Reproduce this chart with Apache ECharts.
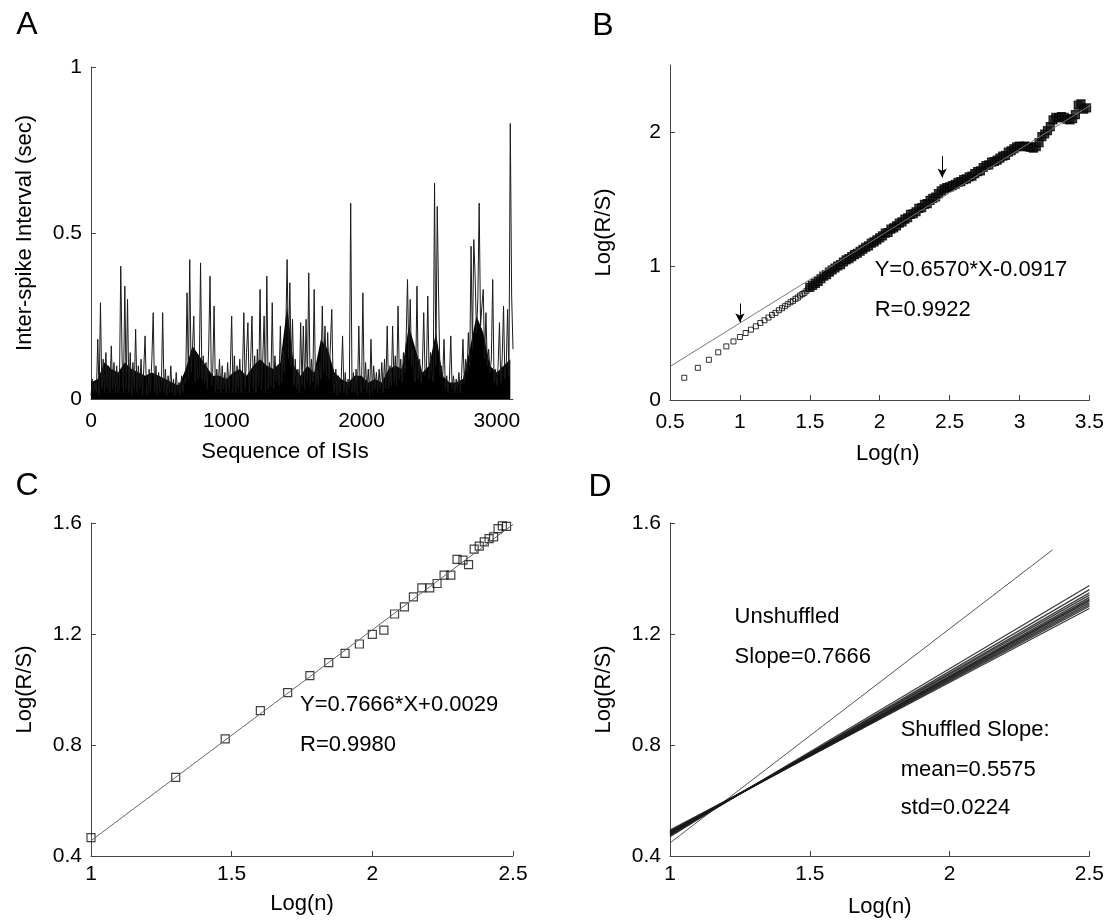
<!DOCTYPE html>
<html>
<head>
<meta charset="utf-8">
<script src="https://cdn.jsdelivr.net/npm/echarts@6/dist/echarts.min.js"></script>
<style>html,body{margin:0;padding:0;background:#fff}#c{width:1107px;height:920px}</style>
</head>
<body>
<div id="c"></div>
<script>
// ---------- Panel A: inter-spike intervals (one value every 10 ISIs) ----------
const isiStep = 10;
const isiValues = [
0.01,0.06,0.02,0.05,0.02,0.18,0.01,0.29,0.03,0.12,0.02,0.14,0.03,0.10,0.02,0.16,0.03,0.11,0.02,0.10,
0.02,0.03,0.40,0.12,0.02,0.34,0.03,0.30,0.02,0.14,0.01,0.11,0.03,0.21,0.02,0.10,0.03,0.12,0.01,0.09,
0.19,0.02,0.01,0.09,0.02,0.12,0.26,0.02,0.10,0.01,0.08,0.02,0.03,0.26,0.02,0.09,0.01,0.07,0.02,0.10,
0.02,0.06,0.01,0.08,0.02,0.05,0.01,0.07,0.02,0.06,0.05,0.32,0.06,0.42,0.08,0.15,0.25,0.05,0.14,0.06,
0.07,0.41,0.06,0.13,0.05,0.11,0.03,0.15,0.37,0.04,0.08,0.28,0.02,0.09,0.03,0.12,0.02,0.10,0.03,0.08,
0.02,0.11,0.03,0.09,0.25,0.02,0.13,0.02,0.10,0.03,0.12,0.02,0.08,0.26,0.03,0.14,0.23,0.02,0.11,0.25,
0.03,0.13,0.02,0.15,0.04,0.33,0.03,0.12,0.25,0.02,0.37,0.03,0.11,0.04,0.29,0.03,0.13,0.05,0.10,0.04,
0.22,0.05,0.15,0.08,0.20,0.42,0.12,0.35,0.10,0.24,0.04,0.12,0.03,0.09,0.02,0.23,0.04,0.22,0.03,0.24,
0.05,0.38,0.04,0.12,0.05,0.33,0.03,0.10,0.04,0.11,0.06,0.28,0.08,0.22,0.07,0.20,0.06,0.16,0.27,0.05,
0.02,0.09,0.01,0.07,0.02,0.06,0.19,0.02,0.08,0.01,0.06,0.03,0.59,0.02,0.08,0.02,0.09,0.01,0.22,0.03,
0.02,0.32,0.03,0.11,0.02,0.09,0.01,0.18,0.02,0.10,0.03,0.08,0.02,0.09,0.03,0.11,0.02,0.12,0.03,0.22,
0.03,0.10,0.04,0.22,0.05,0.13,0.04,0.28,0.06,0.12,0.05,0.14,0.08,0.18,0.36,0.12,0.30,0.10,0.15,0.06,
0.05,0.34,0.06,0.12,0.05,0.10,0.26,0.07,0.09,0.31,0.06,0.14,0.08,0.05,0.65,0.10,0.58,0.31,0.07,0.10,
0.06,0.18,0.03,0.07,0.02,0.06,0.19,0.03,0.07,0.02,0.06,0.03,0.08,0.02,0.07,0.18,0.05,0.12,0.08,0.20,
0.10,0.46,0.15,0.48,0.37,0.20,0.30,0.59,0.22,0.28,0.33,0.12,0.26,0.10,0.15,0.08,0.12,0.36,0.05,0.09,
0.04,0.10,0.23,0.05,0.12,0.28,0.06,0.10,0.27,0.07,0.83,0.31,0.15
];
// height of the solid black mass formed by the densely packed ISIs (one value every 50 ISIs)
const isiCoreStep = 50;
const isiCore = [
0.05,0.06,0.11,0.09,0.08,0.11,0.09,0.08,0.07,0.08,
0.07,0.06,0.05,0.04,0.09,0.16,0.13,0.10,0.07,0.07,
0.06,0.08,0.09,0.07,0.10,0.12,0.10,0.09,0.11,0.28,
0.10,0.07,0.10,0.08,0.18,0.15,0.08,0.06,0.05,0.07,
0.07,0.05,0.06,0.05,0.09,0.10,0.09,0.22,0.15,0.08,
0.10,0.20,0.07,0.05,0.05,0.06,0.15,0.25,0.20,0.10,
0.08,0.10,0.12
];
const aXTicks = [0, 1000, 2000, 3000];
const aYTicks = [0, 0.5, 1];

// ---------- Panel B: R/S analysis of the ISI series ----------
const rsSparseX = [0.602,0.699,0.778,0.845,0.903,0.954,1.000,1.041,1.079,1.114,1.146,1.176,1.204,1.230,1.255,1.279,1.301,1.322,1.342,1.362,1.380,1.398,1.415,1.431,1.447,1.462,1.477,1.491];
const rsSparseY = [0.166,0.240,0.300,0.356,0.400,0.437,0.470,0.500,0.525,0.550,0.575,0.595,0.615,0.635,0.650,0.670,0.685,0.700,0.715,0.730,0.740,0.755,0.765,0.780,0.790,0.800,0.815,0.830];
const rsDenseStart = 1.50, rsDenseStep = 0.02;
const rsDenseY = [
0.840,0.855,0.870,0.885,0.905,0.925,0.935,0.955,0.970,0.985,
1.000,1.010,1.030,1.045,1.055,1.070,1.085,1.095,1.110,1.125,
1.140,1.150,1.170,1.180,1.195,1.210,1.225,1.245,1.250,1.275,
1.285,1.300,1.320,1.330,1.350,1.360,1.385,1.390,1.405,1.430,
1.435,1.460,1.465,1.490,1.505,1.515,1.540,1.560,1.575,1.585,
1.590,1.600,1.610,1.625,1.630,1.645,1.650,1.665,1.670,1.690,
1.705,1.710,1.735,1.750,1.755,1.775,1.780,1.790,1.805,1.820,
1.825,1.850,1.860,1.875,1.890,1.895,1.890,1.895,1.890,1.885,
1.880,1.890,1.920,1.965,1.985,2.010,2.040,2.090,2.110,2.105,
2.115,2.110,2.095,2.090,2.100,2.130,2.200,2.210,2.170,2.180
];
const fitBX = [0.5, 3.6];
const fitBY = [0.25, 2.26];
const arrowBX = [1.0, 2.447];
const arrowBTop = [0.72, 1.82];
const arrowBTip = [0.58, 1.66];
const bXTicks = [0.5, 1, 1.5, 2, 2.5, 3, 3.5];
const bYTicks = [0, 1, 2];

// ---------- Panel C: R/S for 10 <= n <= 300 ----------
const cX = [1.000,1.301,1.477,1.602,1.699,1.778,1.845,1.903,1.954,2.000,2.041,2.079,2.114,2.146,2.176,2.204,2.230,2.255,2.279,2.301,2.322,2.342,2.362,2.380,2.398,2.415,2.431,2.447,2.462,2.477];
const cY = [0.466,0.683,0.822,0.924,0.989,1.050,1.097,1.130,1.164,1.199,1.214,1.272,1.298,1.334,1.366,1.366,1.382,1.412,1.412,1.469,1.466,1.450,1.506,1.517,1.532,1.544,1.550,1.580,1.590,1.588];
const fitCX = [1.0, 2.5];
const fitCY = [0.455, 1.595];
const cdXTicks = [1, 1.5, 2, 2.5];
const cdYTicks = [0.4, 0.8, 1.2, 1.6];

// ---------- Panel D: unshuffled vs shuffled fits ----------
const unshufX = [1.0, 2.368];
const unshufY = [0.447, 1.503];
const shufX = [1.0, 1.25, 2.5];
const shufStartY = [0.493,0.490,0.488,0.486,0.485,0.483,0.482,0.480,0.478,0.476,0.474,0.470];
const shufMidY   = [0.626,0.625,0.626,0.624,0.625,0.626,0.625,0.624,0.626,0.625,0.624,0.625];
const shufEndY   = [1.292,1.300,1.306,1.312,1.318,1.322,1.326,1.332,1.340,1.348,1.360,1.375];

// ---------- texts ----------
const panelLetters = [['A',27,25],['B',603,26],['C',27,486],['D',600,487]];
const annotations = [
  {grid:1, x:1.964, y:0.97, text:'Y=0.6570*X-0.0917'},
  {grid:1, x:1.964, y:0.672, text:'R=0.9922'},
  {grid:2, x:1.743, y:0.944, text:'Y=0.7666*X+0.0029'},
  {grid:2, x:1.743, y:0.80, text:'R=0.9980'},
  {grid:3, x:1.231, y:1.261, text:'Unshuffled'},
  {grid:3, x:1.231, y:1.117, text:'Slope=0.7666'},
  {grid:3, x:1.825, y:0.854, text:'Shuffled Slope:'},
  {grid:3, x:1.825, y:0.710, text:'mean=0.5575'},
  {grid:3, x:1.825, y:0.573, text:'std=0.0224'}
];

const FONT = "'Liberation Sans', Arial, sans-serif";
const AXIS_COLOR = '#444';
const plainLabel = v => String(+v.toFixed(2));

function xAx(gi, min, max, ticks, name, gap, margin, namePad) {
  return {
    type:'value', gridIndex:gi, min:min, max:max,
    name:name, nameLocation:'middle', nameGap:gap,
    nameTextStyle:{fontFamily:FONT, fontSize:22, color:'#000', padding:namePad || 0},
    axisLine:{show:true, onZero:false, lineStyle:{color:AXIS_COLOR, width:1}},
    axisTick:{show:true, inside:true, length:5, customValues:ticks, lineStyle:{color:AXIS_COLOR}},
    axisLabel:{customValues:ticks, formatter:plainLabel, fontFamily:FONT, fontSize:21, color:'#000', margin:margin},
    splitLine:{show:false}
  };
}
function yAx(gi, min, max, ticks, name) {
  return {
    type:'value', gridIndex:gi, min:min, max:max,
    name:name, nameLocation:'middle', nameGap:55,
    nameTextStyle:{fontFamily:FONT, fontSize:22, color:'#000'},
    axisLine:{show:true, onZero:false, lineStyle:{color:AXIS_COLOR, width:1}},
    axisTick:{show:true, inside:true, length:5, customValues:ticks, lineStyle:{color:AXIS_COLOR}},
    axisLabel:{customValues:ticks, formatter:plainLabel, fontFamily:FONT, fontSize:21, color:'#000', margin:9},
    splitLine:{show:false}
  };
}

const isiData = isiValues.map((v, i) => [i * isiStep, v]);
const isiCoreData = isiCore.map((v, i) => [i * isiCoreStep, v]);
const sparseData = rsSparseX.map((x, i) => [x, rsSparseY[i]]);
const denseData = rsDenseY.map((y, i) => [+(rsDenseStart + i * rsDenseStep).toFixed(2), y]);
const cData = cX.map((x, i) => [x, cY[i]]);
const pairs = (xs, ys) => xs.map((x, i) => [x, ys[i]]);

const series = [
  {type:'line', xAxisIndex:0, yAxisIndex:0, data:isiCoreData, showSymbol:false, symbol:'none',
   lineStyle:{width:0}, areaStyle:{color:'#000', opacity:1, origin:'start'}, silent:true},
  {type:'line', xAxisIndex:0, yAxisIndex:0, data:isiData, showSymbol:false, symbol:'none',
   lineStyle:{color:'#1a1a1a', width:1}, silent:true},
  {type:'line', xAxisIndex:1, yAxisIndex:1, data:pairs(fitBX, fitBY), showSymbol:false, symbol:'none',
   clip:false, lineStyle:{color:'#777', width:1}, silent:true,
   markLine:{silent:true, symbol:['none','arrow'], symbolSize:[7,9], label:{show:false},
     lineStyle:{color:'#000', width:1, type:'solid'},
     data: arrowBX.map((x, i) => [{coord:[x, arrowBTop[i]]}, {coord:[x, arrowBTip[i]]}])}},
  {type:'scatter', xAxisIndex:1, yAxisIndex:1, data:sparseData, symbol:'rect', symbolSize:5,
   itemStyle:{color:'rgba(255,255,255,0)', borderColor:'#000', borderWidth:1}, silent:true},
  {type:'scatter', xAxisIndex:1, yAxisIndex:1, data:denseData, symbol:'rect', symbolSize:8,
   itemStyle:{color:'#111', borderColor:'#000', borderWidth:1.2}, silent:true},
  {type:'line', xAxisIndex:2, yAxisIndex:2, data:pairs(fitCX, fitCY), showSymbol:false, symbol:'none',
   lineStyle:{color:'#666', width:1}, silent:true},
  {type:'scatter', xAxisIndex:2, yAxisIndex:2, data:cData, symbol:'rect', symbolSize:8,
   itemStyle:{color:'rgba(255,255,255,0)', borderColor:'#111', borderWidth:1.2}, silent:true},
  {type:'line', xAxisIndex:3, yAxisIndex:3, data:pairs(unshufX, unshufY), showSymbol:false, symbol:'none',
   lineStyle:{color:'#555', width:1}, silent:true}
];
shufStartY.forEach((s, i) => {
  series.push({type:'line', xAxisIndex:3, yAxisIndex:3,
    data:pairs(shufX, [s, shufMidY[i], shufEndY[i]]), showSymbol:false, symbol:'none',
    lineStyle:{color:'#1a1a1a', width:1.3, opacity:0.85}, silent:true});
});

const option = {
  animation:false,
  backgroundColor:'#fff',
  textStyle:{fontFamily:FONT},
  grid:[
    {left:91, top:67, width:422, height:332},
    {left:670, top:65, width:422, height:335},
    {left:91, top:523, width:422, height:333},
    {left:670, top:523, width:422, height:333}
  ],
  xAxis:[
    xAx(0, 0, 3120, aXTicks, 'Sequence of ISIs', 42, 12, [0,34,0,0]),
    xAx(1, 0.5, 3.5, bXTicks, 'Log(n)', 43, 12, [0,0,0,16]),
    xAx(2, 1, 2.5, cdXTicks, 'Log(n)', 37, 8),
    xAx(3, 1, 2.5, cdXTicks, 'Log(n)', 40, 8)
  ],
  yAxis:[
    yAx(0, 0, 1, aYTicks, 'Inter-spike Interval (sec)'),
    yAx(1, 0, 2.5, bYTicks, 'Log(R/S)'),
    yAx(2, 0.4, 1.6, cdYTicks, 'Log(R/S)'),
    yAx(3, 0.4, 1.6, cdYTicks, 'Log(R/S)')
  ],
  series:series
};

const chart = echarts.init(document.getElementById('c'), null, {renderer:'canvas'});
chart.setOption(option);

const graphics = panelLetters.map(([t, x, y]) => ({
  type:'text', x:x, y:y,
  style:{text:t, fontFamily:FONT, fontSize:32, fill:'#000', align:'center', verticalAlign:'middle'}
}));
annotations.forEach(a => {
  const p = chart.convertToPixel({gridIndex:a.grid}, [a.x, a.y]);
  graphics.push({type:'text', x:p[0], y:p[1],
    style:{text:a.text, fontFamily:FONT, fontSize:22, fill:'#000', align:'left', verticalAlign:'middle'}});
});
chart.setOption({graphic:graphics});
</script>
</body>
</html>
